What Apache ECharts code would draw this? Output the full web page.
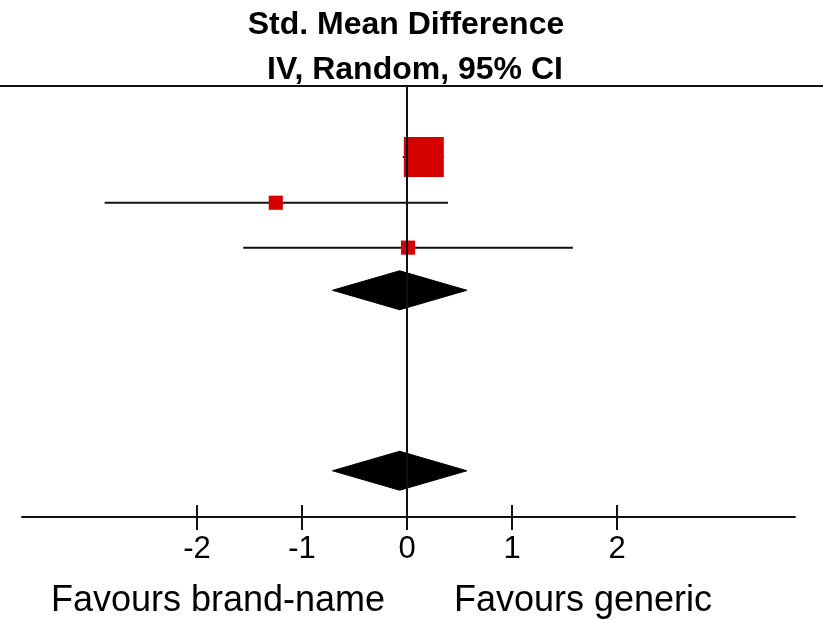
<!DOCTYPE html>
<html><head><meta charset="utf-8">
<script src="https://cdn.jsdelivr.net/npm/echarts@6/dist/echarts.min.js"></script>
<style>html,body{margin:0;padding:0;background:#fff}#c{width:823px;height:620px}</style>
</head><body><div id="c"></div>
<script>
// Study-level data (Std. Mean Difference, IV, Random, 95% CI)
const studyRows = [1.58, 2.6, 3.6];
const studyEst = [0.16, -1.25, 0.01];
const studyLo = [-0.04, -2.88, -1.56];
const studyHi = [0.35, 0.39, 1.58];
const studyWeight = [80, 10, 10];
// Pooled (diamond) rows
const pooledRows = [4.55, 8.57];
const pooledEst = [-0.07, -0.07];
const pooledLo = [-0.71, -0.71];
const pooledHi = [0.57, 0.57];
// Axis
const tickValues = [-2, -1, 0, 1, 2];
const xMin = -3.667, xMax = 3.695;
const yMin = 0, yMax = 9.6;
const titleLines = ['Std. Mean Difference', 'IV, Random, 95% CI'];
const favourLabels = ['Favours brand-name', 'Favours generic'];

const FONT = '"Liberation Sans", Arial, sans-serif';
const LINE = '#111';
const RED = '#d40000';

const chart = echarts.init(document.getElementById('c'), null, {renderer: 'canvas'});

const ciData = studyRows.map((r, i) => [studyLo[i], studyHi[i], r]);
const sqData = studyRows.map((r, i) => ({value: [studyEst[i], r], symbolSize: Math.sqrt(studyWeight[i]) * 4.47}));
const dmData = pooledRows.map((r, i) => [pooledLo[i], pooledEst[i], pooledHi[i], r]);

chart.setOption({
  animation: false,
  backgroundColor: '#fff',
  title: [
    {text: titleLines[0], left: 401, top: 4, textAlign: 'center',
     textStyle: {fontFamily: FONT, fontSize: 32, fontWeight: 'bold', color: '#000'}},
    {text: titleLines[1], left: 410, top: 49, textAlign: 'center',
     textStyle: {fontFamily: FONT, fontSize: 32, fontWeight: 'bold', color: '#000'}},
    {text: favourLabels[0], left: 213, top: 578, textAlign: 'center',
     textStyle: {fontFamily: FONT, fontSize: 36, fontWeight: 'normal', color: '#000'}},
    {text: favourLabels[1], left: 578, top: 578, textAlign: 'center',
     textStyle: {fontFamily: FONT, fontSize: 36, fontWeight: 'normal', color: '#000'}}
  ],
  graphic: [
    {type: 'line', shape: {x1: 0, y1: 86, x2: 823, y2: 86}, style: {stroke: LINE, lineWidth: 2}, z: 10}
  ],
  grid: {left: 22, right: 28, top: 86, bottom: 103, containLabel: false},
  xAxis: [
    {type: 'value', min: xMin, max: xMax, position: 'bottom',
     splitLine: {show: false},
     axisLine: {show: true, onZero: false, lineStyle: {color: LINE, width: 2}},
     axisTick: {show: true, inside: false, length: 13, customValues: tickValues, lineStyle: {color: LINE, width: 2}},
     axisLabel: {show: true, customValues: tickValues, margin: 17, color: '#000', fontFamily: FONT, fontSize: 31}},
    {type: 'value', min: xMin, max: xMax, position: 'bottom',
     splitLine: {show: false},
     axisLine: {show: false, onZero: false},
     axisTick: {show: true, inside: true, length: 12, customValues: tickValues, lineStyle: {color: LINE, width: 2}},
     axisLabel: {show: false}}
  ],
  yAxis: {type: 'value', min: yMin, max: yMax, inverse: true, show: false},
  series: [
    {
      type: 'custom', name: 'ci', z: 2,
      data: ciData,
      encode: {x: [0, 1], y: 2},
      renderItem: function (params, api) {
        const p1 = api.coord([api.value(0), api.value(2)]);
        const p2 = api.coord([api.value(1), api.value(2)]);
        return {type: 'line', shape: {x1: p1[0], y1: p1[1], x2: p2[0], y2: p2[1]},
                style: {stroke: LINE, lineWidth: 2}};
      },
      markLine: {
        silent: true, symbol: 'none', label: {show: false},
        lineStyle: {color: LINE, width: 2, type: 'solid'},
        data: [{xAxis: 0}]
      }
    },
    {
      type: 'scatter', name: 'est', z: 3,
      symbol: 'rect',
      itemStyle: {color: RED, opacity: 1},
      data: sqData
    },
    {
      type: 'custom', name: 'pooled', z: 4,
      data: dmData,
      encode: {x: [0, 1, 2], y: 3},
      renderItem: function (params, api) {
        const l = api.coord([api.value(0), api.value(3)]);
        const c = api.coord([api.value(1), api.value(3)]);
        const r = api.coord([api.value(2), api.value(3)]);
        const h = 19.5;
        return {type: 'polygon',
                shape: {points: [[l[0], l[1]], [c[0], c[1] - h], [r[0], r[1]], [c[0], c[1] + h]]},
                style: {fill: '#000', stroke: '#000', lineWidth: 1}};
      }
    }
  ]
});
</script></body></html>
